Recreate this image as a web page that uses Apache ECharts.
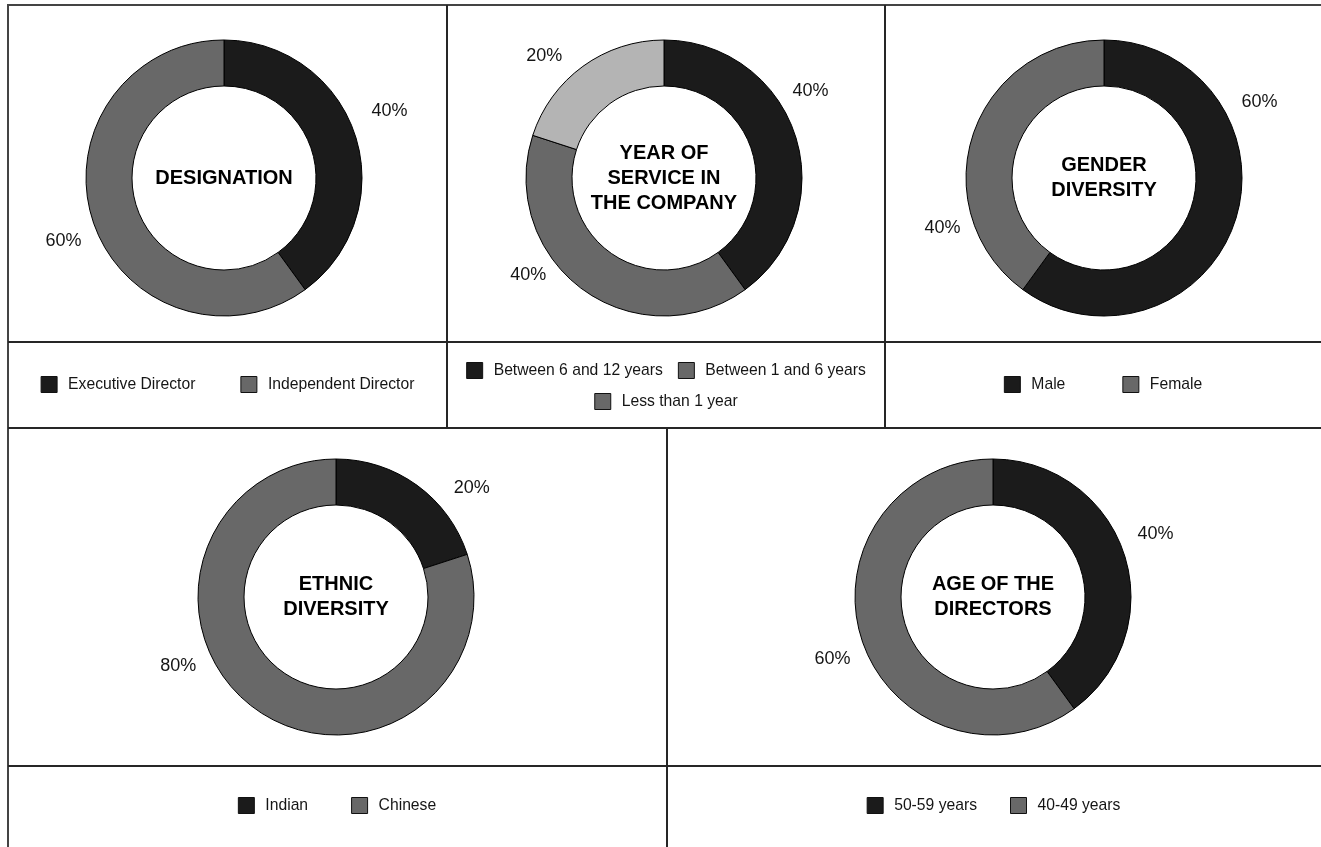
<!DOCTYPE html>
<html>
<head>
<meta charset="utf-8">
<title>Board Composition</title>
<script src="https://cdn.jsdelivr.net/npm/echarts@6/dist/echarts.min.js"></script>
<style>
  html, body { margin: 0; padding: 0; background: #fff; overflow: hidden; width: 1321px; height: 847px; }
  .cell { position: absolute; }
  .rule { position: absolute; background: #262626; z-index: 5; }
  #frame { position: absolute; left: 7px; top: 4px; width: 1340px; height: 870px;
           border: 2px solid #444; box-sizing: border-box; z-index: 5; }
</style>
</head>
<body>
<div id="frame"></div>
<!-- table rules -->
<div class="rule" style="left:446px; top:5px; width:2px; height:423px;"></div>
<div class="rule" style="left:884px; top:5px; width:2px; height:423px;"></div>
<div class="rule" style="left:8px; top:341px; width:1313px; height:2px;"></div>
<div class="rule" style="left:8px; top:427px; width:1313px; height:2px;"></div>
<div class="rule" style="left:666px; top:428px; width:2px; height:419px;"></div>
<div class="rule" style="left:8px; top:765px; width:1313px; height:2px;"></div>

<div id="cA" class="cell" style="left:8px; top:5px; width:439px; height:423px;"></div>
<div id="cB" class="cell" style="left:447px; top:5px; width:438px; height:423px;"></div>
<div id="cC" class="cell" style="left:885px; top:5px; width:436px; height:423px;"></div>
<div id="cD" class="cell" style="left:8px; top:428px; width:658px; height:419px;"></div>
<div id="cE" class="cell" style="left:666px; top:428px; width:655px; height:419px;"></div>

<script>
// ---- data ----
const designationNames = ['Executive Director', 'Independent Director'];
const designationValues = [40, 60];

const serviceNames = ['Between 6 and 12 years', 'Between 1 and 6 years', 'Less than 1 year'];
const serviceValues = [40, 40, 20];

const genderNames = ['Male', 'Female'];
const genderValues = [60, 40];

const ethnicNames = ['Indian', 'Chinese'];
const ethnicValues = [20, 80];

const ageNames = ['50-59 years', '40-49 years'];
const ageValues = [40, 60];

// ---- styling ----
const FONT = "'Liberation Sans', Arial, Helvetica, sans-serif";
const DARK = '#1b1b1b';
const MID = '#686868';
const LIGHT = '#b4b4b4';

// one panel per donut: title in the hole, slice colours, legend rows and label nudges
const panels = [
  { el: 'cA', title: 'DESIGNATION', names: designationNames, values: designationValues,
    colors: [DARK, MID], legendColors: [DARK, MID],
    center: [216, 173], legendRows: [[0, 1]], legendTop: [371], legendGap: 45,
    nudge: [[1, -14], [4, 10]] },
  { el: 'cB', title: 'YEAR OF\nSERVICE IN\nTHE COMPANY', names: serviceNames, values: serviceValues,
    colors: [DARK, MID, LIGHT], legendColors: [DARK, MID, MID],
    center: [217, 173], legendRows: [[0, 1], [2]], legendTop: [357, 388], legendGap: 15,
    nudge: [[-18, -34], [-34, -43], [-18, 18]] },
  { el: 'cC', title: 'GENDER\nDIVERSITY', names: genderNames, values: genderValues,
    colors: [DARK, MID], legendColors: [DARK, MID],
    center: [219, 173], legendRows: [[0, 1]], legendTop: [371], legendGap: 57,
    nudge: [[-9, -129], [3, 103]] },
  { el: 'cD', title: 'ETHNIC\nDIVERSITY', names: ethnicNames, values: ethnicValues,
    colors: [DARK, MID], legendColors: [DARK, MID],
    center: [328, 169], legendRows: [[0, 1]], legendTop: [369], legendGap: 43,
    nudge: [[34, 31], [-56, -71]] },
  { el: 'cE', title: 'AGE OF THE\nDIRECTORS', names: ageNames, values: ageValues,
    colors: [DARK, MID], legendColors: [DARK, MID],
    center: [327, 169], legendRows: [[0, 1]], legendTop: [369], legendGap: 33,
    nudge: [[-2, -10], [4, 9]] }
];

function buildOption(p) {
  const slices = p.names.map((n, i) => ({ name: n, value: p.values[i], itemStyle: { color: p.colors[i] } }));
  const labelData = p.names.map((n, i) => ({ name: n, value: p.values[i] }));

  const legends = p.legendRows.map((row, k) => ({
    top: p.legendTop[k],
    left: 'center',
    orient: 'horizontal',
    padding: 0,
    icon: 'rect',
    itemWidth: 16,
    itemHeight: 16,
    itemGap: p.legendGap,
    selectedMode: false,
    textStyle: { fontFamily: FONT, fontSize: 15.7, color: '#151515', padding: [0, 0, 0, 6] },
    data: row.map(i => ({
      name: p.names[i],
      itemStyle: { color: p.legendColors[i], borderColor: '#111', borderWidth: 1 }
    }))
  }));

  return {
    animation: false,
    backgroundColor: 'transparent',
    legend: legends,
    graphic: [{
      type: 'text',
      x: p.center[0],
      y: p.center[1],
      z: 10,
      style: {
        text: p.title,
        font: 'bold 20px ' + FONT,
        fill: '#000',
        align: 'center',
        verticalAlign: 'middle',
        lineHeight: 25
      }
    }],
    series: [
      {
        type: 'pie',
        radius: [92, 138],
        center: p.center,
        startAngle: 90,
        clockwise: true,
        silent: true,
        avoidLabelOverlap: false,
        label: { show: false },
        labelLine: { show: false },
        itemStyle: { borderColor: '#000', borderWidth: 1 },
        emphasis: { disabled: true },
        data: slices
      },
      {
        // percentage labels sit on an invisible ring just outside the donut
        type: 'pie',
        radius: [150, 190],
        center: p.center,
        startAngle: 90,
        clockwise: true,
        silent: true,
        avoidLabelOverlap: false,
        percentPrecision: 0,
        itemStyle: { color: 'rgba(0,0,0,0)', borderWidth: 0 },
        label: {
          show: true,
          position: 'inside',
          formatter: '{d}%',
          fontFamily: FONT,
          fontSize: 18,
          color: '#151515',
          textBorderWidth: 0
        },
        labelLine: { show: false },
        labelLayout: params => ({ dx: p.nudge[params.dataIndex][0], dy: p.nudge[params.dataIndex][1] }),
        emphasis: { disabled: true },
        data: labelData
      }
    ]
  };
}

panels.forEach(p => {
  const chart = echarts.init(document.getElementById(p.el), null, { renderer: 'canvas' });
  chart.setOption(buildOption(p));
});
</script>
</body>
</html>
